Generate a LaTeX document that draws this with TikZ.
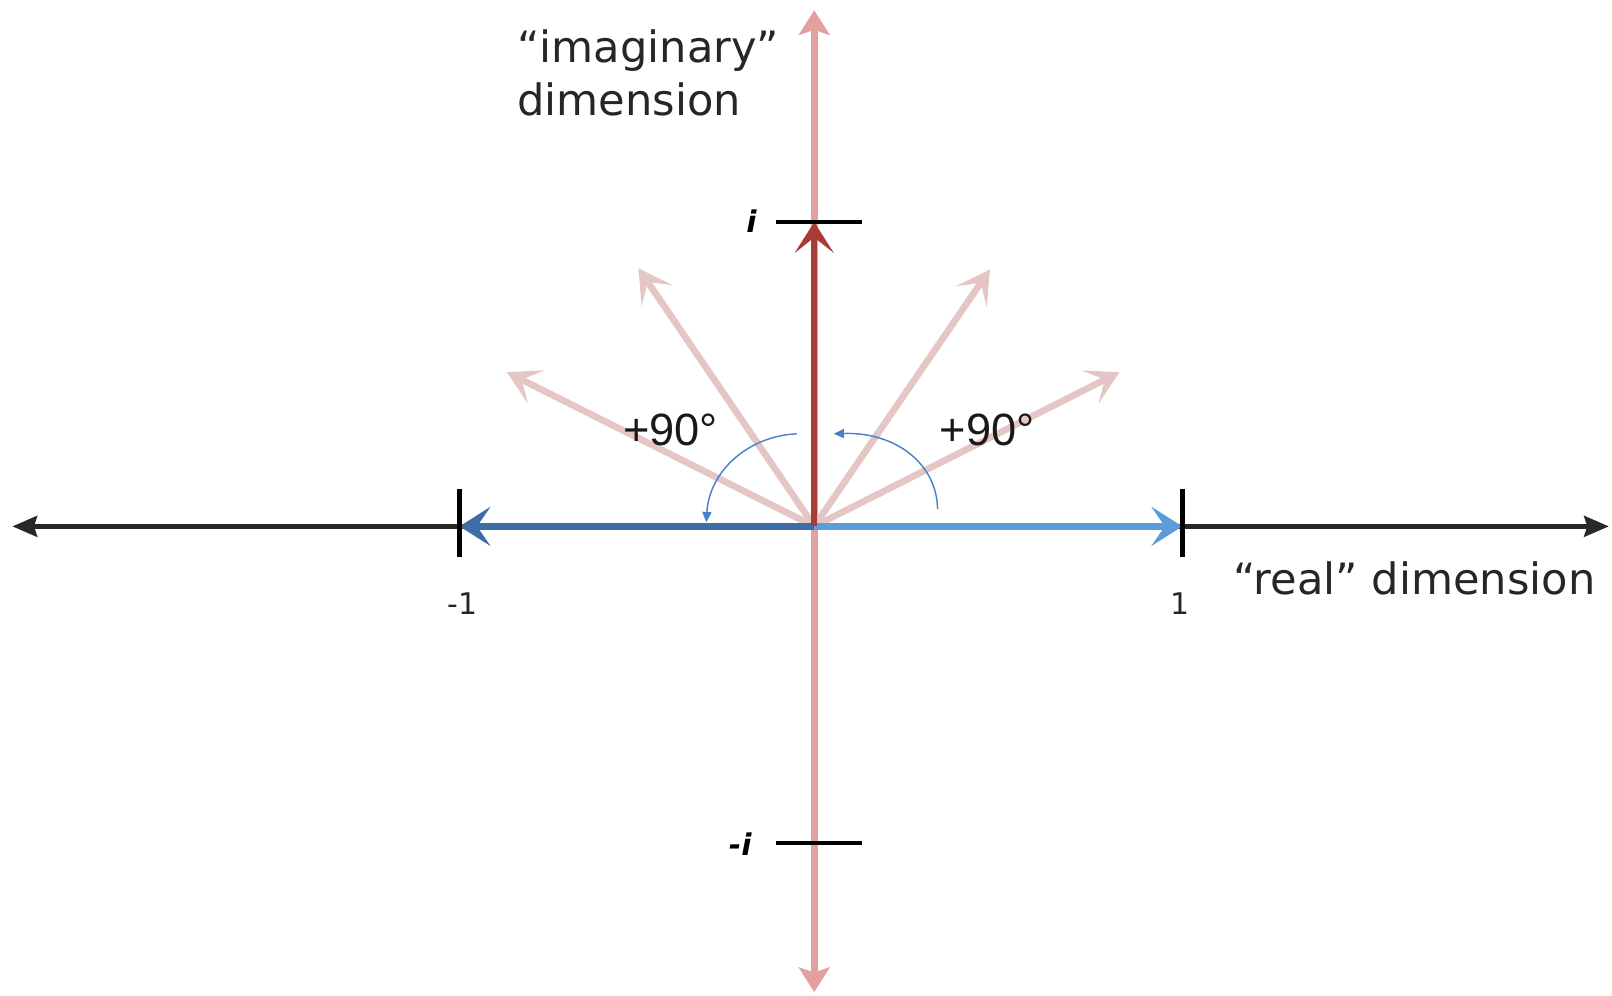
\documentclass[tikz,border=0pt]{standalone}
\usepackage{fontspec}
\setmainfont{DejaVu Sans}
\newfontfamily\arialfont{Liberation Sans}
\usetikzlibrary{arrows.meta}
\definecolor{axisblack}{RGB}{40,40,40}
\definecolor{pinkaxis}{RGB}{226,160,160}
\definecolor{darkred}{RGB}{168,60,55}
\definecolor{faintpink}{RGB}{228,198,196}
\definecolor{blueL}{RGB}{62,110,165}
\definecolor{blueR}{RGB}{92,156,216}
\definecolor{arcblue}{RGB}{70,130,200}
\begin{document}
\begin{tikzpicture}[x=1pt,y=-1pt,
  bigtext/.style={inner sep=0pt,font=\fontsize{42}{51}\selectfont,text=black!85},
  degtext/.style={inner sep=0pt,font=\arialfont\fontsize{44}{50}\selectfont,text=black!90},
  smalltext/.style={inner sep=0pt,font=\fontsize{29}{34}\selectfont,text=black!85},
  itext/.style={inner sep=0pt,font=\fontsize{29}{34}\selectfont\bfseries\itshape,text=black},
  realaxis/.style={draw=axisblack,line width=5pt,{Stealth[length=24pt,width=20pt,inset=3pt]}-{Stealth[length=24pt,width=20pt,inset=3pt]}},
  imagaxis/.style={draw=pinkaxis,line width=7pt,{Stealth[length=24pt,width=30pt,inset=5pt]}-{Stealth[length=24pt,width=30pt,inset=5pt]}},
  redvec/.style={draw=darkred,line width=5.5pt,-{Stealth[length=30pt,width=38pt,inset=15pt]}},
  faintvec/.style={draw=faintpink,line width=6.5pt,-{Stealth[length=32pt,width=36pt,inset=16pt]}},
  bluevec/.style={line width=7pt,-{Stealth[length=30pt,width=38pt,inset=13pt]}},
  tick/.style={draw=black,line width=4.5pt},
  rotarc/.style={draw=arcblue,line width=1.4pt,-{Triangle[length=10pt,width=9pt]}}
]
\useasboundingbox (0,0) rectangle (1568,968);
% coordinates
\coordinate (O) at (792,512);
\coordinate (L) at (12,512);
\coordinate (R) at (1565,512);
\coordinate (T) at (792,10);
\coordinate (B) at (792,965);
\coordinate (M1) at (447,512);
\coordinate (P1) at (1150,512);
\coordinate (Ii) at (792,216);
\coordinate (Im) at (792,820);
\coordinate (F1) at (621,261);
\coordinate (F2) at (493,362);
\coordinate (F3) at (963,262);
\coordinate (F4) at (1089,362);
\coordinate (A1s) at (912,495);
\coordinate (A1e) at (811,422);
\coordinate (A2s) at (775,422);
\coordinate (A2e) at (687,508);
% axes
\draw[imagaxis] (B) -- (T);
\draw[realaxis] (L) -- (R);
% faint rotated vectors
\draw[faintvec] (O) -- (F1);
\draw[faintvec] (O) -- (F2);
\draw[faintvec] (O) -- (F3);
\draw[faintvec] (O) -- (F4);
% blue vectors
\draw[bluevec,draw=blueL] (O) -- (M1);
\draw[bluevec,draw=blueR] (O) -- (P1);
% red vector
\draw[redvec] (O) -- (Ii);
% ticks
\draw[tick] ([yshift=-30]M1) -- ([yshift=36]M1);
\draw[tick] ([yshift=-30]P1) -- ([yshift=36]P1);
\draw[tick] ([xshift=-37]Ii) -- ([xshift=46]Ii);
\draw[tick] ([xshift=-37]Im) -- ([xshift=46]Im);
% rotation arcs
\draw[rotarc] (A1s) .. controls (911,450) and (870,420) .. (A1e);
\draw[rotarc] (A2s) .. controls (728,424) and (690,458) .. (A2e);
% labels
\node[bigtext,anchor=base west] (imag) at (503,61) {\begin{tabular}[t]{@{}l@{}}“imaginary”\\dimension\end{tabular}};
\node[bigtext,anchor=base west] (real) at (1200,578) {“real” dimension};
\node[degtext,anchor=base west] (deg1) at (606,433) {+90°};
\node[degtext,anchor=base west] (deg2) at (914,433) {+90°};
\node[smalltext,anchor=base] (lm1) at (450,598) {-1};
\node[smalltext,anchor=base] (lp1) at (1148,598) {1};
\node[itext,anchor=base] (li) at (731,226) {i};
\node[itext,anchor=base] (lmi) at (720,832) {-i};
\end{tikzpicture}
\end{document}
